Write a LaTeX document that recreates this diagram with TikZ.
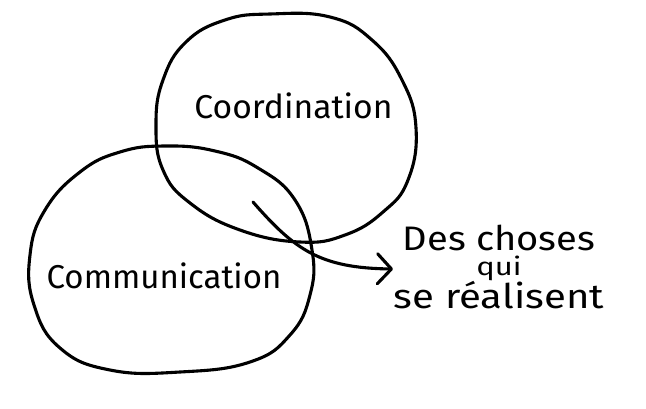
\documentclass[tikz,border=0pt]{standalone}
\usepackage{fontspec}
\setmainfont{Fira Sans}[Ligatures={NoCommon}]
\usetikzlibrary{arrows.meta}
\tikzset{
  blob/.style={line width=3.1pt, line join=round},
  label/.style={inner sep=0pt, anchor=base, font=\fontsize{33}{33}\selectfont},
  side/.style={label, font=\fontsize{34}{34}\selectfont},
  flow/.style={line width=3.1pt, line cap=round, -{Straight Barb[length=14pt,width=30pt,line cap=round,line join=round]}}
}
\begin{document}
\begin{tikzpicture}[x=1pt,y=-1pt]
\useasboundingbox (0,0) rectangle (646,408);
% top circle (Coordination)
\draw[blob] plot[smooth cycle, tension=0.75] coordinates {
  (270,14) (330,17) (372,40) (402,80) (416,128) (408,180) (383,212) (345,235) (300,242) (240,230) (190,203) (163,170) (156,125) (163,80) (186,42) (225,20)};
% bottom circle (Communication)
\draw[blob] plot[smooth cycle, tension=0.75] coordinates {
  (165,146) (215,151) (258,168) (295,200) (312,250) (310,295) (290,335) (250,362) (180,372) (110,370) (60,348) (34,305) (30,255) (45,210) (80,172) (120,152)};
\node[label] (coord) at (293.5,118) {\scalebox{1.02}[1]{Coordination}};
\node[label] (comm) at (164,288) {Communication};
\node[side] (des) at (499,250) {\scalebox{1.12}[1]{Des choses}};
\node[label, font=\fontsize{25}{25}\selectfont] (qui) at (499,275) {\scalebox{1.24}[1]{qui}};
\node[side] (real) at (499,308) {\scalebox{1.18}[1]{se réalisent}};
\coordinate (start) at (253,202);
\coordinate (tip) at (393,269);
\draw[flow] (start) .. controls (295,250) and (320,268) .. (tip);
\end{tikzpicture}
\end{document}
